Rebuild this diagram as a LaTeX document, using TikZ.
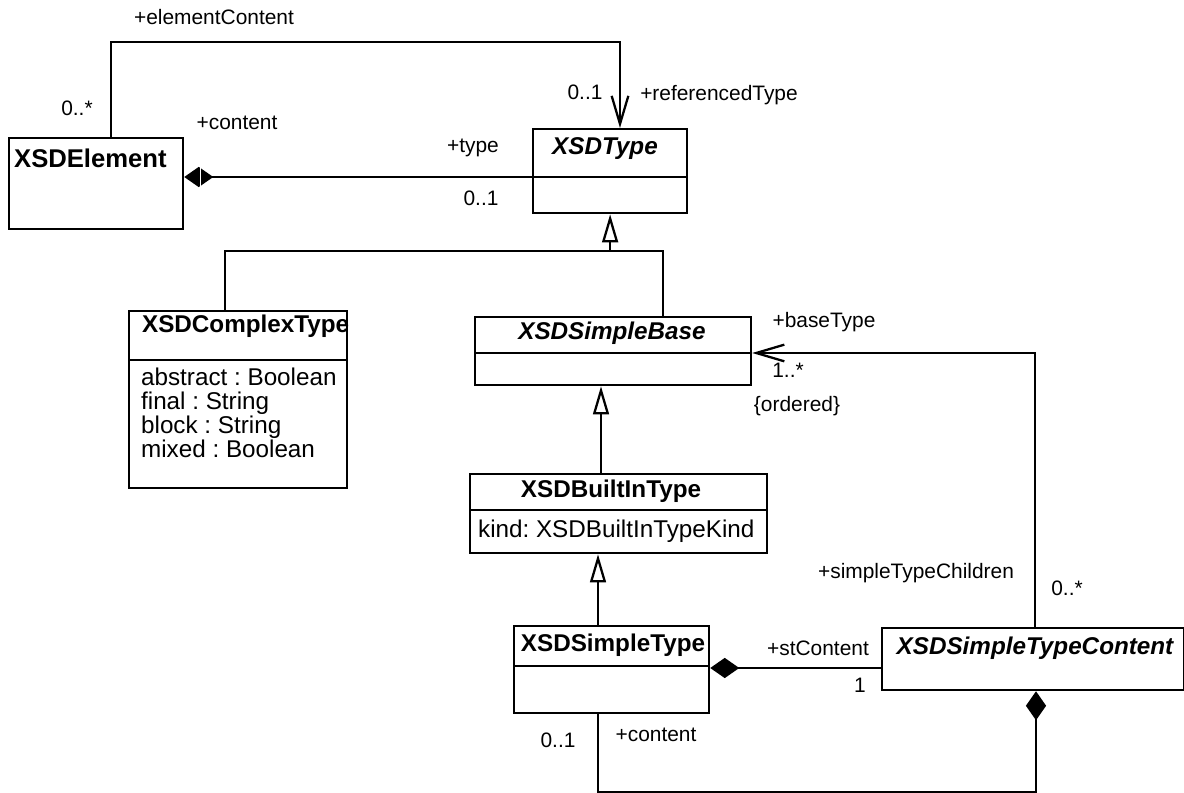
\documentclass[tikz,border=0pt]{standalone}
\usepackage{fontspec}
\setmainfont{Liberation Sans}
\usetikzlibrary{arrows.meta, calc, positioning}

\newcommand{\clsfont}{\fontsize{13.8}{13.8}\selectfont}
\newcommand{\rolefont}{\fontsize{11.9}{13}\selectfont}
\frenchspacing

\begin{document}
\begin{tikzpicture}[x=0.02cm, y=-0.02cm, line width=1.3pt]
    \tikzset{umlclass/.style={draw, rectangle, anchor=north west, inner sep=0pt},
             clsname/.style={font=\clsfont\bfseries, inner sep=0pt, anchor=base},
             absname/.style={font=\clsfont\bfseries\itshape, inner sep=0pt, anchor=base},
             attr/.style={font=\clsfont, inner sep=0pt, anchor=base west},
             role/.style={font=\rolefont, inner sep=0pt, anchor=base},
             inherit/.style={-{Triangle[open, length=16pt, width=9pt]}},
             navi/.style={-{Straight Barb[length=16pt, width=9.5pt]}},
             composed/.style={{Diamond[length=16.5pt, width=11.5pt]}-}};
    \useasboundingbox (0,0) rectangle (1184,793);
    % classes
    \node[umlclass, minimum width=3.48cm, minimum height=1.82cm] (elem) at (8,137) {};
    \node[clsname, anchor=base west, font=\fontsize{14.6}{15}\selectfont\bfseries] (elemname) at (13,168) {XSDElement};
    \node[umlclass, minimum width=3.08cm, minimum height=1.68cm] (type) at (532,128) {};
    \node[absname] (typename) at (605,155) {XSDType};
    \draw ($(type.north west)+(0,49)$) -- ($(type.north east)+(0,49)$);
    \node[umlclass, minimum width=4.36cm, minimum height=3.54cm] (cplx) at (128,310) {};
    \node[clsname, anchor=base west] (cplxname) at (141,333) {XSDComplexType};
    \draw ($(cplx.north west)+(0,50)$) -- ($(cplx.north east)+(0,50)$);
    \node[attr] (cplxa1) at (140,386) {abstract : Boolean};
    \node[attr] (cplxa2) at (140,410) {final : String};
    \node[attr] (cplxa3) at (140,434) {block : String};
    \node[attr] (cplxa4) at (140,458) {mixed : Boolean};
    \node[umlclass, minimum width=5.52cm, minimum height=1.36cm] (sbase) at (474,316) {};
    \node[absname] (sbasename) at (612,340) {XSDSimpleBase};
    \draw ($(sbase.north west)+(0,37)$) -- ($(sbase.north east)+(0,37)$);
    \node[umlclass, minimum width=5.94cm, minimum height=1.58cm] (builtin) at (469,473) {};
    \node[clsname] (builtinname) at (611,498) {XSDBuiltInType};
    \draw ($(builtin.north west)+(0,37)$) -- ($(builtin.north east)+(0,37)$);
    \node[attr] (builtina1) at (477,538) {kind: XSDBuiltInTypeKind};
    \node[umlclass, minimum width=3.9cm, minimum height=1.74cm] (stype) at (513,625) {};
    \node[clsname] (stypename) at (613,652) {XSDSimpleType};
    \draw ($(stype.north west)+(0,41)$) -- ($(stype.north east)+(0,41)$);
    \node[umlclass, minimum width=6.04cm, minimum height=1.24cm] (stc) at (881,627) {};
    \node[absname] (stcname) at (1035,655) {XSDSimpleTypeContent};
    % bends
    \coordinate (ecL) at (111,42);
    \coordinate (ecR) at (620,42);
    \coordinate (cy1) at (0,177);
    \coordinate (genL) at (225,251);
    \coordinate (genR) at (663,251);
    \coordinate (bx) at (601,0);
    \coordinate (sx) at (598,0);
    \coordinate (btR) at (1035,353);
    \coordinate (cy2) at (0,668);
    \coordinate (cbL) at (598,792);
    \coordinate (cbR) at (1036,792);
    % connectors
    \draw[navi] (elem.north -| ecL) -- (ecL) -- (ecR) -- (type.north -| ecR);
    \draw[composed] (elem.east |- cy1) -- (type.west |- cy1);
    \draw[white, line width=0.7pt] ($(elem.east |- cy1)+(16,-11)$) -- ($(elem.east |- cy1)+(16,11)$);
    \draw[inherit] (type.south |- genL) -- (type.south);
    \draw (cplx.north -| genL) -- (genL) -- (genR) -- (sbase.north -| genR);
    \draw[inherit] (builtin.north -| bx) -- (sbase.south -| bx);
    \draw[inherit] (stype.north -| sx) -- (builtin.south -| sx);
    \draw[navi] (stc.north -| btR) -- (btR) -- (sbase.east |- btR);
    \draw[composed] (stype.east |- cy2) -- (stc.west |- cy2);
    \draw[composed] (stc.south -| cbR) -- (cbR) -- (cbL) -- (stype.south -| cbL);
    % roles and multiplicities
    \node[role] (ecname) at (214,25) {+elementContent};
    \node[role] (ecmult) at (77,116) {0..*};
    \node[role] (reftype) at (719,101) {+referencedType};
    \node[role] (refmult) at (585,100) {0..1};
    \node[role] (contname) at (237,130) {+content};
    \node[role] (typerole) at (473,153) {+type};
    \node[role] (typemult) at (481,206) {0..1};
    \node[role] (basename) at (824,328) {+baseType};
    \node[role] (basemult) at (788,378) {1..*};
    \node[role] (baseord) at (797,412) {\{ordered\}};
    \node[role] (childname) at (916,579) {+simpleTypeChildren};
    \node[role] (childmult) at (1067,596) {0..*};
    \node[role] (stcname2) at (818,656) {+stContent};
    \node[role] (stcmult) at (860,693) {1};
    \node[role] (stmult) at (558,747) {0..1};
    \node[role] (stcont) at (656,742) {+content};
\end{tikzpicture}
\end{document}
